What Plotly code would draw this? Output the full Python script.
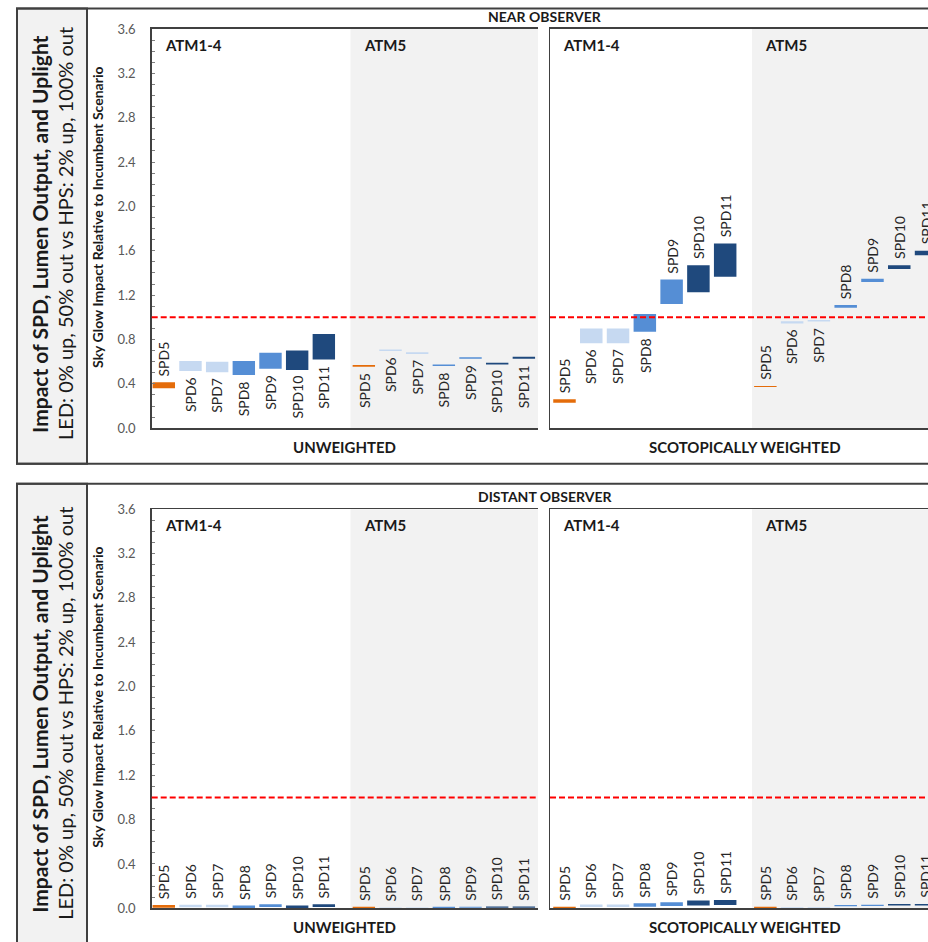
import plotly.graph_objects as go

W, H = 928, 942

# ---------------- data ----------------
categories = ["SPD5", "SPD6", "SPD7", "SPD8", "SPD9", "SPD10", "SPD11"]
groups = ["ATM1-4", "ATM5"]
y_ticks = [0.0, 0.4, 0.8, 1.2, 1.6, 2.0, 2.4, 2.8, 3.2, 3.6]
incumbent_level = 1.0

# Near observer, unweighted (floating bars: low / high)
near_unw_atm14_low = [0.36, 0.515, 0.505, 0.48, 0.535, 0.525, 0.62]
near_unw_atm14_high = [0.415, 0.605, 0.600, 0.605, 0.680, 0.700, 0.85]
near_unw_atm5_low = [0.555, 0.695, 0.670, 0.560, 0.625, 0.575, 0.625]
near_unw_atm5_high = [0.570, 0.710, 0.685, 0.575, 0.640, 0.590, 0.645]

# Near observer, scotopically weighted
near_sco_atm14_low = [0.23, 0.765, 0.765, 0.87, 1.12, 1.225, 1.365]
near_sco_atm14_high = [0.26, 0.900, 0.900, 1.03, 1.34, 1.470, 1.665]
near_sco_atm5_low = [0.372, 0.945, 0.963, 1.086, 1.318, 1.435, 1.560]
near_sco_atm5_high = [0.381, 0.965, 0.975, 1.110, 1.348, 1.470, 1.600]

# Distant observer, unweighted
dist_unw_atm14_low = [0.005, 0.010, 0.010, 0.002, 0.012, 0.002, 0.012]
dist_unw_atm14_high = [0.030, 0.032, 0.032, 0.025, 0.037, 0.025, 0.037]
dist_unw_atm5_low = [0.002, 0.002, 0.002, 0.004, 0.005, 0.006, 0.006]
dist_unw_atm5_high = [0.015, 0.008, 0.008, 0.014, 0.015, 0.017, 0.017]

# Distant observer, scotopically weighted
dist_sco_atm14_low = [0.003, 0.012, 0.012, 0.015, 0.020, 0.025, 0.030]
dist_sco_atm14_high = [0.015, 0.035, 0.035, 0.045, 0.055, 0.070, 0.075]
dist_sco_atm5_low = [0.003, 0.003, 0.003, 0.018, 0.020, 0.025, 0.025]
dist_sco_atm5_high = [0.015, 0.010, 0.010, 0.030, 0.033, 0.038, 0.038]

# label placement relative to bar ("a" above / "b" below)
near_unw_atm14_lab = ["a", "b", "b", "b", "b", "b", "b"]
near_unw_atm5_lab = ["b", "b", "b", "b", "b", "b", "b"]
near_sco_atm14_lab = ["a", "b", "b", "b", "a", "a", "a"]
near_sco_atm5_lab = ["a", "b", "b", "a", "a", "a", "a"]
dist_lab = ["a"] * 7

# ---------------- styles ----------------
bar_colors = ["#E46C0A", "#C6D9F1", "#C6D9F1", "#558ED5", "#558ED5", "#1F497D", "#1F497D"]
FONT = "Lato"
BOX = "#404040"

# the captured page is slightly squeezed vertically; compensate layout positions
VS, VOFF = 0.9833, 8.0


def px_x(p):
    return p / W


def px_y(p):
    return 1 - ((p - VOFF) / VS) / H


# subplot geometry (target pixels)
left_x = (151.7, 538.0)
right_x = (550.0, 928.0)
top_y = (29.0, 428.3)
bot_y = (509.3, 908.6)

# category positions: ATM1-4 at 0..6, ATM5 at 7.5..13.5
pos14 = list(range(7))
pos5 = [7.5 + i for i in range(7)]
left_range = [-0.454, 14.03]
right_range = [-0.541, 13.573]

panels = [
    ("", left_x, top_y, left_range, near_unw_atm14_low, near_unw_atm14_high, near_unw_atm5_low,
     near_unw_atm5_high, near_unw_atm14_lab, near_unw_atm5_lab, True),
    ("2", right_x, top_y, right_range, near_sco_atm14_low, near_sco_atm14_high, near_sco_atm5_low,
     near_sco_atm5_high, near_sco_atm14_lab, near_sco_atm5_lab, False),
    ("3", left_x, bot_y, left_range, dist_unw_atm14_low, dist_unw_atm14_high, dist_unw_atm5_low,
     dist_unw_atm5_high, dist_lab, dist_lab, True),
    ("4", right_x, bot_y, right_range, dist_sco_atm14_low, dist_sco_atm14_high, dist_sco_atm5_low,
     dist_sco_atm5_high, dist_lab, dist_lab, False),
]

fig = go.Figure()
layout = dict(
    width=W, height=H,
    margin=dict(l=0, r=0, t=0, b=0),
    paper_bgcolor="white", plot_bgcolor="rgba(0,0,0,0)",
    showlegend=False, hovermode=False,
    font=dict(family=FONT, color="#262626"),
)
shapes = []
annotations = []

for suf, xd, yd, xr, l14, h14, l5, h5, lab14, lab5, showticks in panels:
    xa = "x" + suf
    ya = "y" + suf
    xs = pos14 + pos5
    lows = l14 + l5
    highs = h14 + h5
    labs = lab14 + lab5
    fig.add_trace(go.Bar(
        x=xs, y=[h - l for l, h in zip(lows, highs)], base=lows,
        width=0.84, marker=dict(color=bar_colors + bar_colors, line=dict(width=0)),
        xaxis=xa, yaxis=ya, cliponaxis=True,
    ))
    layout["xaxis" + suf] = dict(
        domain=[px_x(xd[0]), px_x(xd[1])], range=xr, anchor=ya,
        showgrid=False, zeroline=False, showticklabels=False, ticks="",
        showline=True, mirror=True, linecolor=BOX, linewidth=1.5,
    )
    yax = dict(
        domain=[px_y(yd[1]), px_y(yd[0])], range=[0, 3.6], anchor=xa,
        showgrid=False, zeroline=False,
        showline=True, mirror=False, linecolor=BOX, linewidth=1.5,
    )
    if showticks:
        yax.update(
            tickmode="array", tickvals=y_ticks, ticktext=[f"{v:.1f}" for v in y_ticks],
            ticks="inside", ticklen=3, tickcolor="#7f7f7f", tickwidth=1,
            tickfont=dict(family=FONT, size=13, color="#595959"),
            ticklabelstandoff=12,
            minor=dict(dtick=0.1, tick0=0, ticks="inside", ticklen=3, tickcolor="#7f7f7f", tickwidth=1),
        )
    else:
        yax.update(showticklabels=False, ticks="")
    layout["yaxis" + suf] = yax

    shapes.append(dict(type="rect", xref=xa, yref=ya + " domain", x0=7, x1=xr[1], y0=0, y1=1,
                       fillcolor="#F2F2F2", line=dict(width=0), layer="below"))
    shapes.append(dict(type="line", xref=xa + " domain", yref=ya, x0=0, x1=1,
                       y0=incumbent_level, y1=incumbent_level,
                       line=dict(color="#FF0000", width=2, dash="6px,3px"), layer="above"))
    for x, lo, hi, lb, name in zip(xs, lows, highs, labs, categories + categories):
        if lb == "a":
            annotations.append(dict(x=x, y=hi, xref=xa, yref=ya, text=name, textangle=-90,
                                    showarrow=False, xanchor="center", yanchor="bottom", yshift=4,
                                    font=dict(family=FONT, size=14, color="#262626")))
        else:
            annotations.append(dict(x=x, y=lo, xref=xa, yref=ya, text=name, textangle=-90,
                                    showarrow=False, xanchor="center", yanchor="top", yshift=-4,
                                    font=dict(family=FONT, size=14, color="#262626")))
    annotations.append(dict(x=px_x(xd[0] + 11), y=px_y(yd[0] + 16), xref="paper", yref="paper",
                            text="<b>" + groups[0] + "</b>", showarrow=False,
                            xanchor="left", yanchor="middle",
                            font=dict(family=FONT, size=15, color="#1a1a1a")))
    x5 = xd[0] + (7 - xr[0]) / (xr[1] - xr[0]) * (xd[1] - xd[0])
    annotations.append(dict(x=px_x(x5 + 11), y=px_y(yd[0] + 16), xref="paper", yref="paper",
                            text="<b>" + groups[1] + "</b>", showarrow=False,
                            xanchor="left", yanchor="middle",
                            font=dict(family=FONT, size=15, color="#1a1a1a")))

for off, obs in [(0, "NEAR OBSERVER"), (480, "DISTANT OBSERVER")]:
    annotations.append(dict(x=px_x(545), y=px_y(17 + off), xref="paper", yref="paper",
                            text="<b>" + obs + "</b>", showarrow=False, xanchor="center", yanchor="middle",
                            font=dict(family=FONT, size=14, color="#1a1a1a")))
    annotations.append(dict(x=px_x(344), y=px_y(447 + off), xref="paper", yref="paper",
                            text="<b>UNWEIGHTED</b>", showarrow=False, xanchor="center", yanchor="middle",
                            font=dict(family=FONT, size=15, color="#1a1a1a")))
    annotations.append(dict(x=px_x(745), y=px_y(447 + off), xref="paper", yref="paper",
                            text="<b>SCOTOPICALLY WEIGHTED</b>", showarrow=False, xanchor="center",
                            yanchor="middle", font=dict(family=FONT, size=15, color="#1a1a1a")))
    annotations.append(dict(x=px_x(98), y=px_y(218 + off), xref="paper", yref="paper",
                            text="<b>Sky Glow Impact Relative to Incumbent Scenario</b>", showarrow=False,
                            textangle=-90, xanchor="center", yanchor="middle",
                            font=dict(family=FONT, size=14, color="#1a1a1a")))
    annotations.append(dict(x=px_x(40), y=px_y(234 + off), xref="paper", yref="paper",
                            text="<b>Impact of SPD, Lumen Output, and Uplight</b>", showarrow=False,
                            textangle=-90, xanchor="center", yanchor="middle",
                            font=dict(family=FONT, size=21, color="#1a1a1a")))
    annotations.append(dict(x=px_x(65), y=px_y(234 + off), xref="paper", yref="paper",
                            text="LED: 0% up, 50% out vs HPS: 2% up, 100% out", showarrow=False,
                            textangle=-90, xanchor="center", yanchor="middle",
                            font=dict(family=FONT, size=20, color="#1a1a1a")))

for top, bottom in [(8.6, 464), (484, 990)]:
    shapes.append(dict(type="rect", xref="paper", yref="paper", x0=px_x(17), x1=px_x(87),
                       y0=px_y(bottom), y1=px_y(top), fillcolor="#F2F2F2",
                       line=dict(color=BOX, width=2), layer="below"))
    shapes.append(dict(type="rect", xref="paper", yref="paper", x0=px_x(17), x1=px_x(960),
                       y0=px_y(bottom), y1=px_y(top), fillcolor="rgba(0,0,0,0)",
                       line=dict(color=BOX, width=2), layer="below"))

layout["shapes"] = shapes
layout["annotations"] = annotations
fig.update_layout(**layout)
page_css = (
    "var s=document.createElement('style');"
    "s.textContent='html,body{margin:0!important;padding:0!important;overflow:hidden!important;}';"
    "document.head.appendChild(s);"
)
fig.write_html("out.html", config={"displayModeBar": False, "staticPlot": True}, post_script=page_css)
